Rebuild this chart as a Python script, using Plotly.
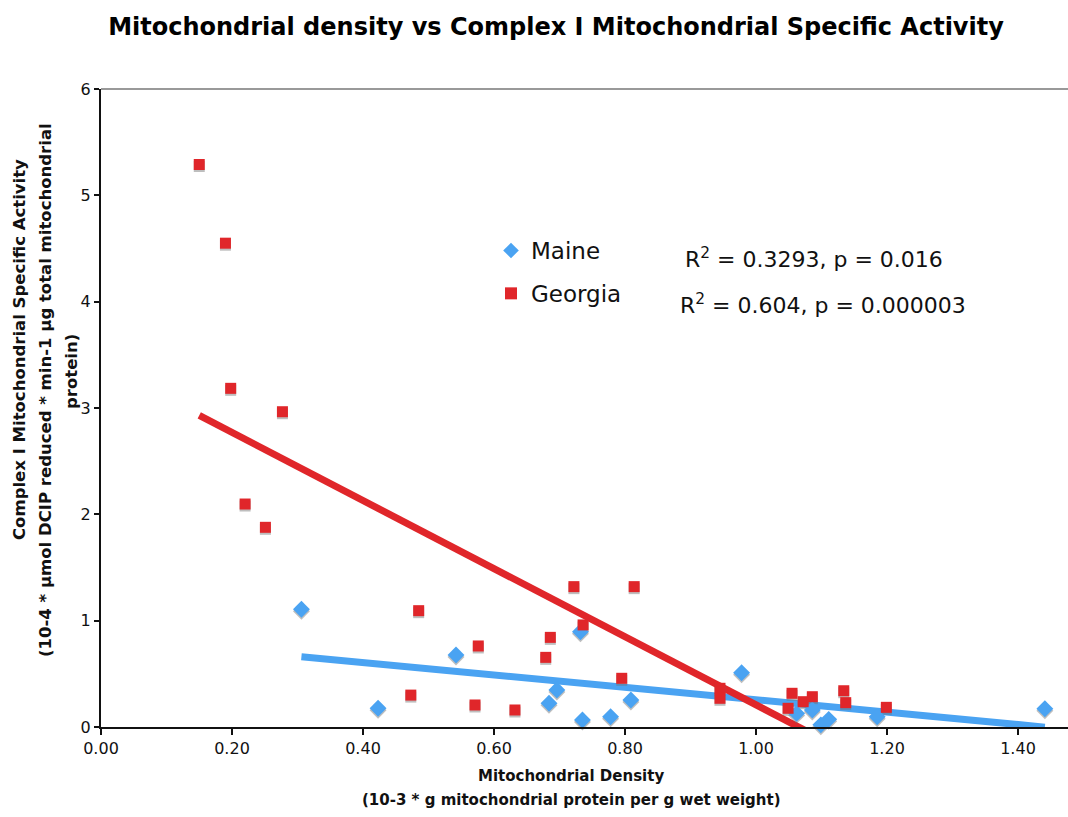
import plotly.graph_objects as go

# Maine samples: mitochondrial density vs complex I specific activity
maine_density = [0.306, 0.423, 0.542, 0.684, 0.696, 0.732, 0.735, 0.778, 0.809,
                 0.978, 1.062, 1.086, 1.099, 1.111, 1.185, 1.441]
maine_activity = [1.107, 0.176, 0.677, 0.223, 0.348, 0.896, 0.066, 0.097, 0.254,
                  0.510, 0.128, 0.160, 0.020, 0.072, 0.097, 0.172]

# Georgia samples
georgia_density = [0.150, 0.190, 0.198, 0.220, 0.251, 0.277, 0.473, 0.485, 0.571,
                   0.576, 0.632, 0.679, 0.686, 0.722, 0.736, 0.795, 0.814, 0.945,
                   0.945, 1.049, 1.055, 1.072, 1.086, 1.134, 1.137, 1.199]
georgia_activity = [5.29, 4.55, 3.185, 2.097, 1.878, 2.965, 0.30, 1.094, 0.207,
                    0.762, 0.16, 0.655, 0.843, 1.32, 0.96, 0.458, 1.32, 0.364,
                    0.27, 0.176, 0.317, 0.238, 0.285, 0.341, 0.229, 0.185]

# Linear trend lines (intercept, slope)
maine_fit = [0.839, -0.583]
georgia_fit = [3.411, -3.203]

stats_text = ["R<sup>2</sup> = 0.3293, p = 0.016",
              "R<sup>2</sup> = 0.604, p = 0.000003"]

title_text = "Mitochondrial density vs Complex I Mitochondrial Specific Activity"
x_title_lines = ["Mitochondrial Density",
                 "(10-3 * g mitochondrial protein per g wet weight)"]
y_title_lines = ["Complex I Mitochondrial Specific Activity",
                 "(10-4 * µmol DCIP reduced * min-1 µg total mitochondrial",
                 "protein)"]

x_ticks = [0.0, 0.2, 0.4, 0.6, 0.8, 1.0, 1.2, 1.4]
x_tick_labels = ["0.00", "0.20", "0.40", "0.60", "0.80", "1.00", "1.20", "1.40"]
y_ticks = [0, 1, 2, 3, 4, 5, 6]

BLUE = "#4aa3f2"
RED = "#e0262a"
SHADOW = "rgba(110,110,110,0.45)"
FONT = "DejaVu Sans"
INK = "#111111"

width, height = 1068, 817
plot_left, plot_top, plot_bottom = 101, 89, 727
dom_w = width - plot_left
dom_h = plot_bottom - plot_top
y_range = [0, 6]
shadow_dy = 2 * (y_range[1] - y_range[0]) / dom_h   # 2 px drop shadow


def px_x(px):
    return (px - plot_left) / dom_w


def px_y(py):
    return (plot_bottom - py) / dom_h


def trend(xs, fit):
    x0, x1 = min(xs), max(xs)
    return [x0, x1], [fit[0] + fit[1] * x0, fit[0] + fit[1] * x1]


fig = go.Figure()

mx, my = trend(maine_density, maine_fit)
gx, gy = trend(georgia_density, georgia_fit)

fig.add_trace(go.Scatter(x=mx, y=my, mode="lines", line=dict(color=BLUE, width=7),
                         showlegend=False, hoverinfo="skip"))
fig.add_trace(go.Scatter(x=gx, y=gy, mode="lines", line=dict(color=RED, width=7),
                         showlegend=False, hoverinfo="skip"))

# soft drop shadows beneath the markers
fig.add_trace(go.Scatter(x=maine_density, y=[v - shadow_dy for v in maine_activity],
                         mode="markers", showlegend=False, hoverinfo="skip",
                         marker=dict(symbol="diamond", size=13, color=SHADOW),
                         cliponaxis=False))
fig.add_trace(go.Scatter(x=georgia_density, y=[v - shadow_dy for v in georgia_activity],
                         mode="markers", showlegend=False, hoverinfo="skip",
                         marker=dict(symbol="square", size=11, color=SHADOW),
                         cliponaxis=False))

fig.add_trace(go.Scatter(x=maine_density, y=maine_activity, mode="markers", name="Maine",
                         legendgroup="maine",
                         marker=dict(symbol="diamond", size=13, color=BLUE),
                         cliponaxis=False))
fig.add_trace(go.Scatter(x=georgia_density, y=georgia_activity, mode="markers", name="Georgia",
                         legendgroup="georgia",
                         marker=dict(symbol="square", size=11, color=RED),
                         cliponaxis=False))

# regression statistics
for text, (sx, sy) in zip(stats_text, [(683, 258), (678, 304)]):
    fig.add_annotation(x=px_x(sx), y=px_y(sy), xref="paper", yref="paper",
                       text=text, showarrow=False, xanchor="left", yanchor="middle",
                       font=dict(family=FONT, size=22, color=INK))

# x axis title, two lines
for text, ty in zip(x_title_lines, [776, 800]):
    fig.add_annotation(x=px_x(571), y=px_y(ty), xref="paper", yref="paper",
                       text="<b>" + text + "</b>", showarrow=False,
                       xanchor="center", yanchor="middle",
                       font=dict(family=FONT, size=15, color=INK))

# y axis title, three rotated lines
for text, (tx, ty) in zip(y_title_lines, [(19, 350), (45, 390), (71, 372)]):
    fig.add_annotation(x=px_x(tx), y=px_y(ty), xref="paper", yref="paper",
                       text="<b>" + text + "</b>", showarrow=False, textangle=-90,
                       xanchor="center", yanchor="middle",
                       font=dict(family=FONT, size=16.5, color=INK))

# grey plot-area border along the top
fig.add_shape(type="line", xref="paper", yref="paper", x0=0, x1=1, y0=1, y1=1,
              line=dict(color="#999999", width=2))

fig.update_layout(
    width=width, height=height,
    margin=dict(l=plot_left, r=0, t=plot_top, b=height - plot_bottom),
    paper_bgcolor="white", plot_bgcolor="white",
    title=dict(text="<b>" + title_text + "</b>",
               x=556 / width, xanchor="center", y=1 - 27 / height, yanchor="middle",
               font=dict(family=FONT, size=24, color="#000")),
    legend=dict(x=px_x(491), y=px_y(229), xanchor="left", yanchor="top",
                font=dict(family=FONT, size=23, color=INK),
                bgcolor="rgba(0,0,0,0)", tracegroupgap=10, itemsizing="constant"),
    font=dict(family=FONT, color=INK),
    showlegend=True,
)

fig.update_xaxes(range=[0, dom_w / 655.0], tickvals=x_ticks,
                 ticktext=x_tick_labels, showgrid=False, zeroline=False,
                 showline=True, linecolor=INK, linewidth=2,
                 ticks="outside", ticklen=6, tickwidth=2, tickcolor=INK,
                 tickfont=dict(family=FONT, size=16, color=INK))
fig.update_yaxes(range=y_range, tickvals=y_ticks, showgrid=False, zeroline=False,
                 showline=True, linecolor=INK, linewidth=2,
                 ticks="outside", ticklen=5, tickwidth=2, tickcolor=INK,
                 tickfont=dict(family=FONT, size=16, color=INK))

fig.write_html("out.html")
